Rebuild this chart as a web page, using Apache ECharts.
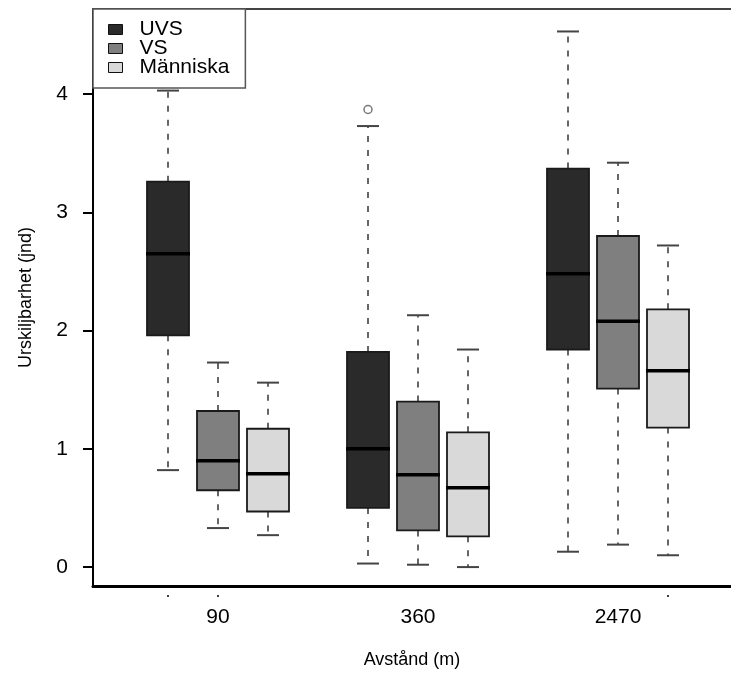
<!DOCTYPE html>
<html>
<head>
<meta charset="utf-8">
<script src="https://cdn.jsdelivr.net/npm/echarts@6/dist/echarts.min.js"></script>
<style>
  html, body { margin: 0; padding: 0; background: #fff; }
  #chart { width: 731px; height: 674px; }
</style>
</head>
<body>
<div id="chart"></div>
<script>
// avstånd (grupper) och serier
const groups = ["90", "360", "2470"];
const groupPos = [2, 6, 10];
const seriesNames = ["UVS", "VS", "Människa"];
const seriesOffset = [-1, 0, 1];
const seriesColors = ["#2a2a2a", "#7f7f7f", "#d9d9d9"];

// [min, Q1, median, Q3, max] per grupp
const uvs = [
  [0.82, 1.96, 2.65, 3.26, 4.03],
  [0.03, 0.50, 1.00, 1.82, 3.73],
  [0.13, 1.84, 2.48, 3.37, 4.53],
];
const vs = [
  [0.33, 0.65, 0.90, 1.32, 1.73],
  [0.02, 0.31, 0.78, 1.40, 2.13],
  [0.19, 1.51, 2.08, 2.80, 3.42],
];
const manniska = [
  [0.27, 0.47, 0.79, 1.17, 1.56],
  [0.00, 0.26, 0.67, 1.14, 1.84],
  [0.10, 1.18, 1.66, 2.18, 2.72],
];
// outliers: [serie-index, grupp-index, värde]
const outliers = [[0, 1, 3.87]];

const yTicks = [0, 1, 2, 3, 4];

const allStats = [uvs, vs, manniska];
const boxHalf = 0.42;
const capHalf = 0.22;

function renderBox (params, api) {
  const x = api.value(0);
  const pMin = api.coord([x, api.value(1)]);
  const pQ1 = api.coord([x, api.value(2)]);
  const pMed = api.coord([x, api.value(3)]);
  const pQ3 = api.coord([x, api.value(4)]);
  const pMax = api.coord([x, api.value(5)]);
  const left = api.coord([x - boxHalf, 0])[0];
  const right = api.coord([x + boxHalf, 0])[0];
  const capL = api.coord([x - capHalf, 0])[0];
  const capR = api.coord([x + capHalf, 0])[0];
  const cx = pMed[0];
  const whisk = { stroke: "#666", lineWidth: 2, lineDash: [6, 8] };
  const cap = { stroke: "#444", lineWidth: 2 };
  return {
    type: "group",
    children: [
      { type: "line", shape: { x1: cx, y1: pQ3[1], x2: cx, y2: pMax[1] }, style: whisk },
      { type: "line", shape: { x1: cx, y1: pQ1[1], x2: cx, y2: pMin[1] }, style: whisk },
      { type: "line", shape: { x1: capL, y1: pMax[1], x2: capR, y2: pMax[1] }, style: cap },
      { type: "line", shape: { x1: capL, y1: pMin[1], x2: capR, y2: pMin[1] }, style: cap },
      {
        type: "rect",
        shape: { x: left, y: pQ3[1], width: right - left, height: pQ1[1] - pQ3[1] },
        style: { fill: api.visual("color"), stroke: "#1a1a1a", lineWidth: 1.8 },
      },
      { type: "line", shape: { x1: left - 1, y1: pMed[1], x2: right + 1, y2: pMed[1] }, style: { stroke: "#000", lineWidth: 3.5 } },
    ],
  };
}

const series = seriesNames.map(function (name, s) {
  return {
    type: "custom",
    name: name,
    renderItem: renderBox,
    itemStyle: { color: seriesColors[s] },
    encode: { x: 0, y: [1, 2, 3, 4, 5] },
    data: allStats[s].map(function (st, g) {
      return [groupPos[g] + seriesOffset[s]].concat(st);
    }),
    silent: true,
    z: 2,
  };
});

series.push({
  type: "scatter",
  name: "outliers",
  symbol: "circle",
  symbolSize: 8,
  itemStyle: { color: "#fff", borderColor: "#555", borderWidth: 1.5 },
  data: outliers.map(function (o) {
    return [groupPos[o[1]] + seriesOffset[o[0]], o[2]];
  }),
  silent: true,
  z: 3,
});

const chart = echarts.init(document.getElementById("chart"), null, { renderer: "canvas" });

const font = "Liberation Sans, Arial, sans-serif";

chart.setOption({
  animation: false,
  backgroundColor: "#fff",
  textStyle: { fontFamily: font, color: "#000" },
  grid: { left: 93, right: 0, top: 9, bottom: 82, containLabel: false },
  legend: {
    data: seriesNames,
    orient: "vertical",
    left: 93,
    top: 9,
    icon: "rect",
    itemWidth: 14,
    itemHeight: 10,
    itemGap: -2,
    padding: [10, 16, 10, 15],
    backgroundColor: "#fff",
    borderColor: "#555",
    borderWidth: 1.5,
    itemStyle: { borderColor: "#111", borderWidth: 1 },
    textStyle: { fontFamily: font, fontSize: 21, color: "#000", lineHeight: 19, padding: [0, 0, 0, 12] },
    z: 10,
  },
  xAxis: [
    {
      type: "value",
      min: -0.5,
      max: 12.26,
      position: "bottom",
      splitLine: { show: false },
      axisLine: { show: true, onZero: false, lineStyle: { color: "#000", width: 3 } },
      axisTick: { show: false },
      axisLabel: {
        customValues: groupPos,
        formatter: function (v) { return groups[groupPos.indexOf(v)] || ""; },
        fontSize: 21,
        color: "#000",
        margin: 21,
      },
      name: "Avstånd (m)",
      nameLocation: "middle",
      nameGap: 65,
      nameTextStyle: { fontSize: 18, color: "#000" },
    },
    {
      type: "value",
      min: -0.5,
      max: 12.26,
      position: "bottom",
      offset: 9,
      splitLine: { show: false },
      axisLine: { show: false, onZero: false },
      axisLabel: { show: false },
      axisTick: { show: true, customValues: [1, 2, 11], length: 2, lineStyle: { color: "#000", width: 1.5 } },
    },
    {
      type: "value",
      min: -0.5,
      max: 12.26,
      position: "top",
      splitLine: { show: false },
      axisLine: { show: true, onZero: false, lineStyle: { color: "#444", width: 2 } },
      axisLabel: { show: false },
      axisTick: { show: false },
    },
  ],
  yAxis: {
    type: "value",
    min: -0.16,
    max: 4.72,
    splitLine: { show: false },
    axisLine: { show: true, onZero: false, lineStyle: { color: "#000", width: 2 } },
    axisTick: { show: true, customValues: yTicks, length: 10, lineStyle: { color: "#000", width: 2 } },
    axisLabel: { customValues: yTicks, fontSize: 21, color: "#000", margin: 25 },
    name: "Urskiljbarhet (jnd)",
    nameLocation: "middle",
    nameGap: 58,
    nameTextStyle: { fontSize: 18, color: "#000" },
  },
  series: series,
});
</script>
</body>
</html>
